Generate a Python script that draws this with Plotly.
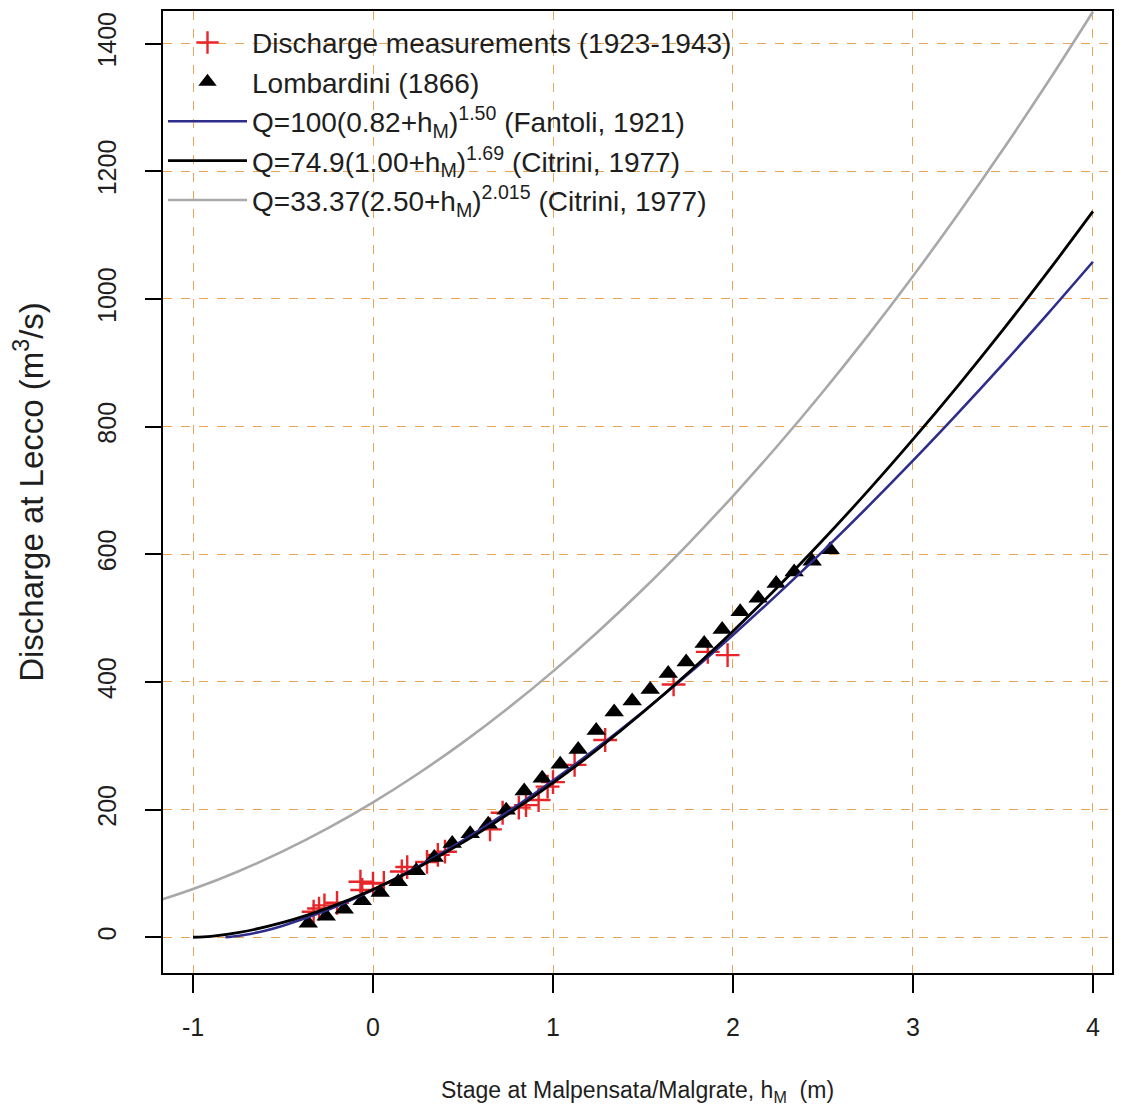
import plotly.graph_objects as go

# discharge measurements (1923-1943)
meas_h = [-0.33, -0.30, -0.27, -0.20, -0.07, -0.06, 0.00, 0.06, 0.16, 0.19, 0.30, 0.36, 0.40,
          0.65, 0.72, 0.81, 0.85, 0.92, 0.97, 1.00, 1.12, 1.29, 1.67, 1.86, 1.97]
meas_q = [40, 45, 50, 54, 87, 74, 84, 85, 103, 110, 118, 129, 134,
          169, 195, 203, 207, 215, 236, 243, 270, 309, 396, 447, 442]

# Lombardini (1866)
lomb_h = [-0.36, -0.26, -0.16, -0.06, 0.04, 0.14, 0.24, 0.34, 0.44, 0.54,
          0.64, 0.74, 0.84, 0.94, 1.04, 1.14, 1.24, 1.34, 1.44, 1.54,
          1.64, 1.74, 1.84, 1.94, 2.04, 2.14, 2.24, 2.34, 2.44, 2.54]
lomb_q = [22, 33, 44, 57, 70, 87, 104, 125, 147, 162,
          177, 199, 229, 249, 271, 294, 324, 353, 370, 388,
          413, 431, 460, 482, 510, 531, 554, 572, 589, 607]

# rating curves
fant_h = [-0.82, -0.80, -0.75, -0.70, -0.60, -0.50, -0.25, 0.00, 0.25, 0.50, 0.75, 1.00, 1.25,
          1.50, 1.75, 2.00, 2.25, 2.50, 2.75, 3.00, 3.25, 3.50, 3.75, 4.00]
fant_q = [0.0, 0.3, 1.9, 4.2, 10.3, 18.1, 43.0, 74.3, 110.7, 151.7, 196.7, 245.5, 297.8,
          353.4, 412.0, 473.6, 537.9, 604.9, 674.5, 746.6, 821.1, 897.9, 977.0, 1058.2]

citr_h = [-1.00, -0.90, -0.75, -0.50, -0.25, 0.00, 0.25, 0.50, 0.75, 1.00, 1.25,
          1.50, 1.75, 2.00, 2.25, 2.50, 2.75, 3.00, 3.25, 3.50, 3.75, 4.00]
citr_q = [0.0, 1.5, 7.2, 23.2, 46.1, 74.9, 109.2, 148.6, 192.9, 241.7, 294.9,
          352.4, 413.9, 479.5, 549.0, 622.3, 699.2, 779.8, 863.9, 951.5, 1042.6, 1137.0]

citr2_h = [-1.20, -1.00, -0.75, -0.50, -0.25, 0.00, 0.25, 0.50, 0.75, 1.00, 1.25,
           1.50, 1.75, 2.00, 2.25, 2.50, 2.75, 3.00, 3.25, 3.50, 3.75, 4.00]
citr2_q = [56.6, 75.5, 103.1, 134.9, 171.0, 211.4, 256.2, 305.3, 358.7, 416.5, 478.6,
           545.1, 616.0, 691.2, 770.7, 854.6, 942.9, 1035.6, 1132.6, 1233.9, 1339.7, 1449.9]

x_ticks = [-1, 0, 1, 2, 3, 4]
x_labels = ['-1', '0', '1', '2', '3', '4']
y_ticks = [0, 200, 400, 600, 800, 1000, 1200, 1400]

sans = 'Liberation Sans, Arial'
grid = '#E9A45A'

fig = go.Figure()

fig.add_trace(go.Scatter(x = meas_h, y = meas_q, mode = 'markers',
	name = 'Discharge measurements (1923-1943)',
	marker = dict(symbol = 'cross-thin', size = 17, line = dict(color = '#E8262A', width = 2.4))))
fig.add_trace(go.Scatter(x = lomb_h, y = lomb_q, mode = 'markers',
	name = 'Lombardini (1866)',
	marker = dict(symbol = 'triangle-up', size = 17, color = 'black')))
fig.add_trace(go.Scatter(x = fant_h, y = fant_q, mode = 'lines',
	name = 'Q=100(0.82+h<sub>M</sub>)<sup>1.50</sup> (Fantoli, 1921)',
	line = dict(color = '#2E2D8C', width = 2.6, shape = 'spline')))
fig.add_trace(go.Scatter(x = citr_h, y = citr_q, mode = 'lines',
	name = 'Q=74.9(1.00+h<sub>M</sub>)<sup>1.69</sup> (Citrini, 1977)',
	line = dict(color = 'black', width = 2.8, shape = 'spline')))
fig.add_trace(go.Scatter(x = citr2_h, y = citr2_q, mode = 'lines',
	name = 'Q=33.37(2.50+h<sub>M</sub>)<sup>2.015</sup> (Citrini, 1977)',
	line = dict(color = '#A8A8A8', width = 2.6, shape = 'spline')))

# the page has an 8px body margin, so the margins are set 8px short
fig.update_layout(
	width = 1124,
	height = 1113,
	margin = dict(l = 155, r = 20, t = 3, b = 148),
	font = dict(family = sans, color = '#1E1E1E', size = 26),
	plot_bgcolor = 'white',
	paper_bgcolor = 'white',
	legend = dict(x = 0.0, y = 0.993, xanchor = 'left', yanchor = 'top',
		bgcolor = 'rgba(0,0,0,0)', font = dict(family = sans, size = 28, color = '#1E1E1E'),
		itemwidth = 79, tracegroupgap = 0)
)
fig.update_xaxes(
	range = [-1.167, 4.106],
	tickvals = x_ticks,
	ticktext = x_labels,
	automargin = False,
	mirror = True,
	ticks = 'outside',
	ticklen = 18,
	tickwidth = 1.5,
	tickcolor = 'black',
	ticklabelstandoff = 13,
	tickfont = dict(family = sans, size = 25),
	showline = True,
	linecolor = 'black',
	linewidth = 2,
	showgrid = True,
	gridcolor = grid,
	griddash = 'dash',
	gridwidth = 1,
	zeroline = False,
	title = dict(text = 'Stage at Malpensata/Malgrate, h<sub>M</sub>  (m)', standoff = 42,
		font = dict(family = sans, size = 23))
)
fig.update_yaxes(
	range = [-56, 1451],
	tickvals = y_ticks,
	tickangle = -90,
	automargin = False,
	mirror = True,
	ticks = 'outside',
	ticklen = 16,
	tickwidth = 1.5,
	tickcolor = 'black',
	ticklabelstandoff = 19,
	tickfont = dict(family = sans, size = 25),
	showline = True,
	linecolor = 'black',
	linewidth = 2,
	showgrid = True,
	gridcolor = grid,
	griddash = 'dash',
	gridwidth = 1,
	zeroline = False,
	title = dict(text = 'Discharge at Lecco (m<sup>3</sup>/s)', standoff = 40,
		font = dict(family = sans, size = 33))
)

fig.write_html('out.html')
